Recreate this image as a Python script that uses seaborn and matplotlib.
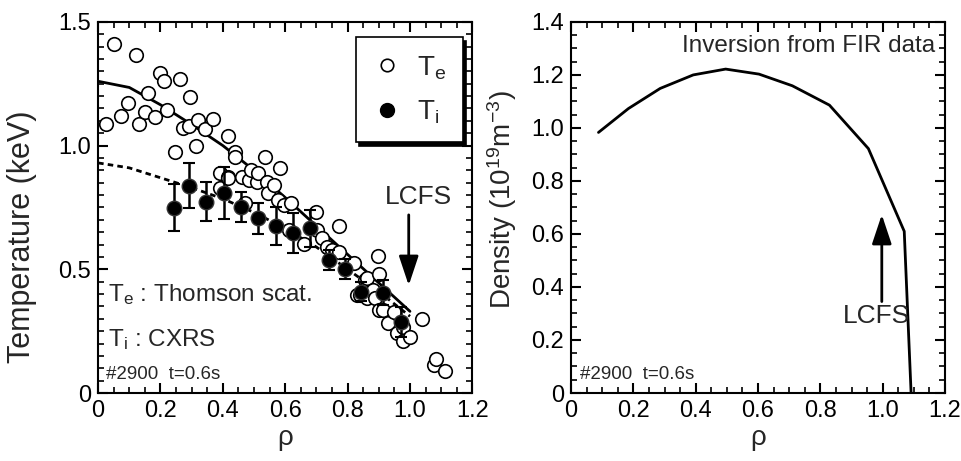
import numpy as np
import pandas as pd
import matplotlib
matplotlib.use('Agg')
import matplotlib.pyplot as plt
from matplotlib.ticker import MultipleLocator, FixedLocator
from matplotlib.lines import Line2D
import seaborn as sns

# electron temperature (Thomson scattering), open circles
te_rho = [0.026, 0.052, 0.074, 0.097, 0.122, 0.132, 0.149, 0.159, 0.183, 0.197,
          0.210, 0.222, 0.245, 0.263, 0.271, 0.292, 0.295, 0.314, 0.320, 0.343,
          0.368, 0.391, 0.391, 0.415, 0.415, 0.418, 0.440, 0.440, 0.461, 0.472,
          0.485, 0.490, 0.509, 0.514, 0.536, 0.541, 0.546, 0.563, 0.578, 0.582,
          0.595, 0.611, 0.619, 0.659, 0.698, 0.701, 0.718, 0.734, 0.750, 0.771,
          0.773, 0.819, 0.830, 0.841, 0.857, 0.862, 0.862, 0.881, 0.889, 0.899,
          0.902, 0.902, 0.915, 0.928, 0.950, 0.958, 0.979, 0.979, 1.001, 1.038,
          1.076, 1.084, 1.113]
te_val = [1.087, 1.411, 1.120, 1.171, 1.367, 1.087, 1.135, 1.212, 1.117, 1.295,
          1.263, 1.144, 0.976, 1.268, 1.070, 1.080, 1.196, 1.000, 1.104, 1.066,
          1.107, 0.888, 0.828, 1.040, 0.875, 0.868, 0.976, 0.953, 0.875, 0.767,
          0.861, 0.902, 0.854, 0.891, 0.953, 0.854, 0.808, 0.841, 0.780, 0.909,
          0.760, 0.659, 0.770, 0.603, 0.733, 0.659, 0.626, 0.592, 0.578, 0.571,
          0.675, 0.524, 0.396, 0.396, 0.457, 0.464, 0.383, 0.417, 0.383, 0.554,
          0.480, 0.336, 0.336, 0.282, 0.329, 0.241, 0.268, 0.211, 0.225, 0.299,
          0.113, 0.136, 0.089]

# ion temperature (CXRS), filled circles with error bars
ti_rho = [0.244, 0.292, 0.346, 0.403, 0.459, 0.513, 0.571, 0.625, 0.680, 0.739,
          0.792, 0.843, 0.915, 0.971]
ti_val = [0.749, 0.838, 0.774, 0.810, 0.753, 0.706, 0.675, 0.646, 0.666, 0.538,
          0.500, 0.410, 0.406, 0.288]
ti_err = [0.096, 0.090, 0.080, 0.105, 0.060, 0.062, 0.078, 0.080, 0.074, 0.040,
          0.040, 0.040, 0.050, 0.060]

# fitted profiles
fit_rho = [0.0, 0.1, 0.2, 0.3, 0.4, 0.5, 0.6, 0.7, 0.8, 0.9, 1.0]
te_fit = [1.26, 1.235, 1.165, 1.085, 1.0, 0.9, 0.79, 0.675, 0.56, 0.445, 0.33]
ti_fit = [0.93, 0.91, 0.87, 0.83, 0.785, 0.73, 0.665, 0.59, 0.50, 0.41, 0.31]

# density from FIR inversion
ne_rho = [0.088, 0.184, 0.286, 0.392, 0.496, 0.603, 0.710, 0.829, 0.954, 1.069, 1.091]
ne_val = [0.983, 1.073, 1.149, 1.200, 1.222, 1.203, 1.159, 1.086, 0.922, 0.610, 0.0]

x_ticks = [0, 0.2, 0.4, 0.6, 0.8, 1.0, 1.2]
x_labels = ['0', '0.2', '0.4', '0.6', '0.8', '1.0', '1.2']
t_ticks = [0, 0.5, 1.0, 1.5]
t_labels = ['0', '0.5', '1.0', '1.5']
n_ticks = [0, 0.2, 0.4, 0.6, 0.8, 1.0, 1.2, 1.4]
n_labels = ['0', '0.2', '0.4', '0.6', '0.8', '1.0', '1.2', '1.4']

sns.set_theme(style='ticks')
plt.rcParams['font.family'] = ['Liberation Sans', 'DejaVu Sans']
plt.rcParams['mathtext.fontset'] = 'custom'
plt.rcParams['mathtext.rm'] = 'Liberation Sans'
plt.rcParams['mathtext.it'] = 'Liberation Sans'
plt.rcParams['axes.linewidth'] = 1.5
plt.rcParams['axes.edgecolor'] = 'black'

fig = plt.figure(figsize=(9.62, 4.61), dpi=100)
ax1 = fig.add_axes([0.102, 0.1475, 0.389, 0.805])
ax2 = fig.add_axes([0.5936, 0.1475, 0.3888, 0.805])


def style_axis(ax):
    ax.tick_params(which='both', direction='in', top=True, right=True, colors='black',
                   labelsize=17, pad=5)
    ax.tick_params(which='major', length=7, width=1.5)
    ax.tick_params(which='minor', length=4, width=1.2)
    ax.set_xlim(0, 1.2)
    ax.xaxis.set_major_locator(FixedLocator(x_ticks))
    ax.set_xticklabels(x_labels)
    ax.xaxis.set_minor_locator(MultipleLocator(0.05))
    ax.set_xlabel('ρ', fontsize=20)
    ax.xaxis.set_label_coords(0.5, -0.085)


# ---- left panel: temperatures
fit_df = pd.DataFrame({'rho': fit_rho, 'Te': te_fit, 'Ti': ti_fit})
sns.lineplot(data=fit_df, x='rho', y='Te', ax=ax1, color='black', lw=2, zorder=1)
sns.lineplot(data=fit_df, x='rho', y='Ti', ax=ax1, color='black', lw=2,
             linestyle=(0, (2, 1.5)), zorder=1)
te_df = pd.DataFrame({'rho': te_rho, 'T': te_val})
sns.scatterplot(data=te_df, x='rho', y='T', ax=ax1, s=95, facecolor='white',
                edgecolor='black', linewidth=1.2, zorder=2)
ax1.errorbar(ti_rho, ti_val, yerr=ti_err, fmt='none', ecolor='black', elinewidth=1.8,
             capsize=4, capthick=1.5, zorder=3)
ti_df = pd.DataFrame({'rho': ti_rho, 'T': ti_val})
sns.scatterplot(data=ti_df, x='rho', y='T', ax=ax1, s=110, color='black',
                edgecolor='#333333', linewidth=1.0, zorder=4)

style_axis(ax1)
ax1.set_ylim(0, 1.5)
ax1.yaxis.set_major_locator(FixedLocator(t_ticks))
ax1.set_yticklabels(t_labels)
ax1.yaxis.set_minor_locator(MultipleLocator(0.05))
ax1.set_ylabel('Temperature (keV)', fontsize=22)
ax1.yaxis.set_label_coords(-0.163, 0.42)

handles = [Line2D([], [], marker='o', ls='none', mfc='white', mec='black', ms=9, mew=1.2),
           Line2D([], [], marker='o', ls='none', mfc='black', mec='black', ms=10)]
leg = ax1.legend(handles, [r'$\mathrm{T_e}$', r'$\mathrm{T_i}$'], loc='upper right',
                 bbox_to_anchor=(0.975, 0.958), fontsize=20, frameon=True, fancybox=False,
                 shadow={'color': 'black', 'alpha': 1.0, 'ox': 2.5, 'oy': -2.5},
                 labelspacing=0.6, handletextpad=0.6, borderpad=0.6, handlelength=1.0,
                 borderaxespad=0)
leg.get_frame().set_edgecolor('black')
leg.get_frame().set_linewidth(1.2)
leg.get_frame().set_alpha(1.0)

ax1.annotate('', xy=(0.996, 0.435), xytext=(0.996, 0.72),
             arrowprops=dict(arrowstyle='-|>,head_length=0.9,head_width=0.3',
                             color='black', lw=2, mutation_scale=20, shrinkA=0, shrinkB=0))
ax1.text(1.027, 0.794, 'LCFS', ha='center', va='center', fontsize=19)
ax1.text(0.027, 0.264, r'$\mathrm{T_e}$ : Thomson scat.', transform=ax1.transAxes,
         fontsize=17.5, va='center')
ax1.text(0.027, 0.143, r'$\mathrm{T_i}$ : CXRS', transform=ax1.transAxes,
         fontsize=17.5, va='center')
ax1.text(0.021, 0.049, '#2900  t=0.6s', transform=ax1.transAxes, fontsize=13.5,
         va='center')

# ---- right panel: density
ne_df = pd.DataFrame({'rho': ne_rho, 'ne': ne_val})
sns.lineplot(data=ne_df, x='rho', y='ne', ax=ax2, color='black', lw=2, sort=False)
style_axis(ax2)
ax2.set_ylim(0, 1.4)
ax2.yaxis.set_major_locator(FixedLocator(n_ticks))
ax2.set_yticklabels(n_labels)
ax2.yaxis.set_minor_locator(MultipleLocator(0.05))
ax2.set_ylabel(r'Density (10$^{19}$m$^{-3}$)', fontsize=20)
ax2.yaxis.set_label_coords(-0.139, 0.52)

ax2.annotate('', xy=(0.997, 0.673), xytext=(0.997, 0.345),
             arrowprops=dict(arrowstyle='-|>,head_length=0.9,head_width=0.3',
                             color='black', lw=2, mutation_scale=20, shrinkA=0, shrinkB=0))
ax2.text(0.98, 0.289, 'LCFS', ha='center', va='center', fontsize=19)
ax2.text(0.973, 0.936, 'Inversion from FIR data', transform=ax2.transAxes,
         ha='right', va='center', fontsize=17.5)
ax2.text(0.024, 0.049, '#2900  t=0.6s', transform=ax2.transAxes, fontsize=13.5,
         va='center')

fig.savefig('out.png', dpi=100)
